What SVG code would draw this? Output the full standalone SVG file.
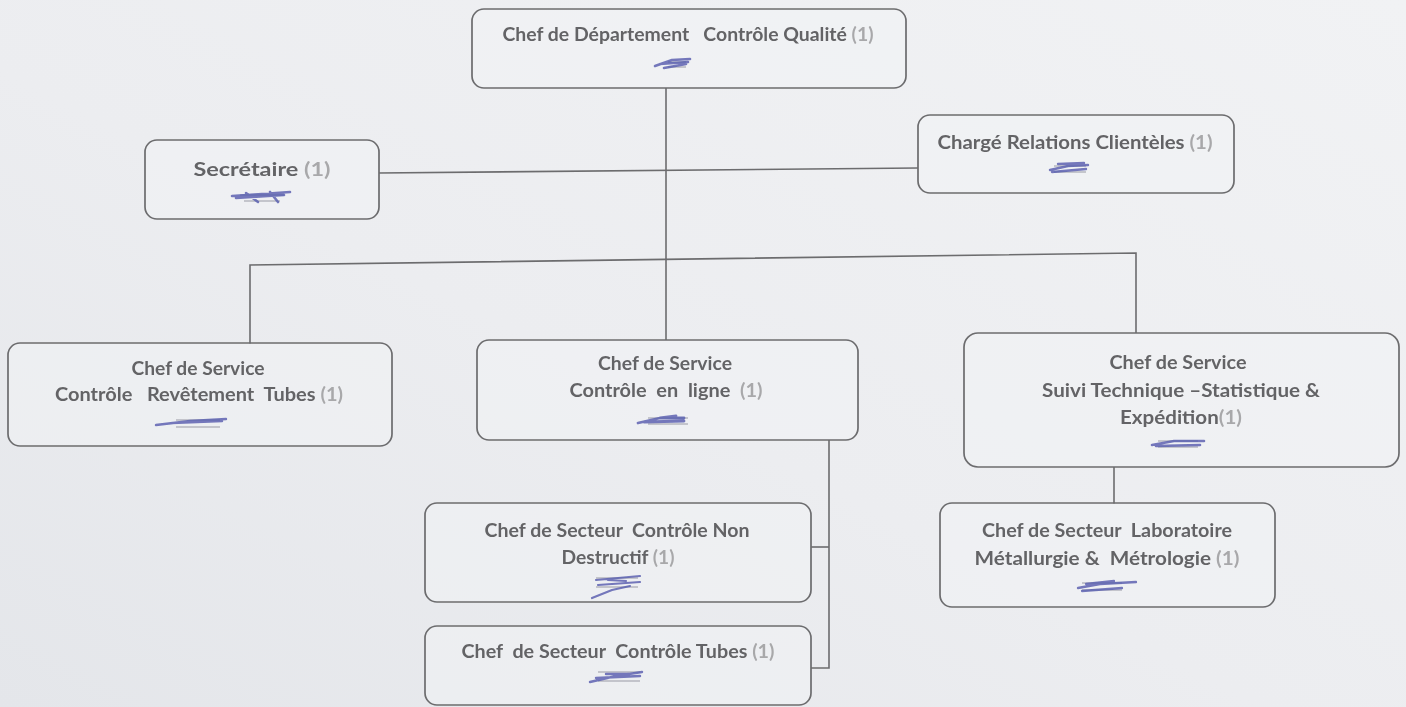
<svg xmlns="http://www.w3.org/2000/svg" width="1406" height="707" viewBox="0 0 1406 707">
  <defs>
    <linearGradient id="paper" x1="1" y1="0" x2="0" y2="1">
      <stop offset="0" stop-color="#f1f2f4"/>
      <stop offset="0.55" stop-color="#ecedf0"/>
      <stop offset="1" stop-color="#e4e6ea"/>
    </linearGradient>
    <filter id="soft" x="-5%" y="-5%" width="110%" height="110%">
      <feGaussianBlur stdDeviation="0.45"/>
    </filter>
    <filter id="ink" x="-10%" y="-30%" width="120%" height="160%">
      <feGaussianBlur stdDeviation="0.6"/>
    </filter>
  </defs>
  <style>
    .box { fill: #f2f3f5; fill-opacity: 0.5; stroke: #6c6c6e; stroke-width: 1.7; }
    .wire { fill: none; stroke: #6c6c6e; stroke-width: 1.6; }
    .lbl { font-family: Lato, "Open Sans", "Liberation Sans", sans-serif; font-weight: 700; font-size: 18px; fill: #646466; text-anchor: middle; white-space: pre; }
    .cnt { fill: #a8a8aa; }
    .code { fill: none; stroke: #9a9aa6; stroke-width: 1.2; }
    .pen { fill: none; stroke: #5d62b0; stroke-linecap: round; stroke-linejoin: round; opacity: 0.85; }
  </style>

  <rect x="0" y="0" width="1406" height="707" fill="url(#paper)"/>

  <g filter="url(#soft)">
    <!-- connectors -->
    <g id="connectors">
      <line class="wire" x1="666" y1="88" x2="666" y2="340"/>
      <line class="wire" x1="379" y1="173" x2="918" y2="168"/>
      <polyline class="wire" points="250,344 250,265 1136,253 1136,333"/>
      <polyline class="wire" points="829,440 829,668 811,668"/>
      <line class="wire" x1="811" y1="547" x2="829" y2="547"/>
      <line class="wire" x1="1114" y1="467" x2="1114" y2="504"/>
    </g>

    <g id="node-chef-departement">
      <rect class="box" x="472" y="9" width="434" height="79" rx="12"/>
      <text class="lbl" x="688" y="41" font-size="18" textLength="371" lengthAdjust="spacingAndGlyphs">Chef de Département   Contrôle Qualité <tspan class="cnt">(1)</tspan></text>
      <g filter="url(#ink)">
        <path class="code" d="M668 62h18M668 67h18"/>
        <path class="pen" stroke-width="2.6" d="M655 66 L672 60 L690 59 M660 64 L688 62 M664 68 L686 64"/>
      </g>
    </g>

    <g id="node-secretaire">
      <rect class="box" x="145" y="140" width="234" height="79" rx="12"/>
      <text class="lbl" x="262" y="176" font-size="21" textLength="137" lengthAdjust="spacingAndGlyphs">Secrétaire <tspan class="cnt">(1)</tspan></text>
      <g filter="url(#ink)">
        <path class="code" d="M240 195h44M244 201h36"/>
        <path class="pen" stroke-width="2.6" d="M232 196 L262 194 L290 192 M236 198 L284 195 M246 193 L258 202 M270 192 L278 202"/>
      </g>
    </g>

    <g id="node-relations-clienteles">
      <rect class="box" x="918" y="115" width="316" height="78" rx="12"/>
      <text class="lbl" x="1075" y="149" textLength="275" lengthAdjust="spacingAndGlyphs">Chargé Relations Clientèles <tspan class="cnt">(1)</tspan></text>
      <g filter="url(#ink)">
        <path class="code" d="M1054 166h32M1054 172h32"/>
        <path class="pen" stroke-width="2.4" d="M1050 170 L1068 166 L1088 165 M1052 172 L1086 169 M1058 164 L1084 163"/>
      </g>
    </g>

    <g id="node-revetement">
      <rect class="box" x="8" y="343" width="384" height="103" rx="12"/>
      <text class="lbl" x="198" y="375" textLength="133" lengthAdjust="spacingAndGlyphs">Chef de Service</text>
      <text class="lbl" x="199" y="401" textLength="288" lengthAdjust="spacingAndGlyphs">Contrôle   Revêtement  Tubes <tspan class="cnt">(1)</tspan></text>
      <g filter="url(#ink)">
        <path class="code" d="M176 420h44M176 427h44"/>
        <path class="pen" stroke-width="2.4" d="M156 425 L190 421 L226 419 M172 423 L222 421"/>
      </g>
    </g>

    <g id="node-en-ligne">
      <rect class="box" x="477" y="340" width="381" height="100" rx="12"/>
      <text class="lbl" x="665" y="370" textLength="134" lengthAdjust="spacingAndGlyphs">Chef de Service</text>
      <text class="lbl" x="666" y="397" textLength="193" lengthAdjust="spacingAndGlyphs">Contrôle  en  ligne  <tspan class="cnt">(1)</tspan></text>
      <g filter="url(#ink)">
        <path class="code" d="M648 418h40M648 424h40"/>
        <path class="pen" stroke-width="2.8" d="M638 423 L660 418 L684 418 M644 422 L684 421 M660 418 L676 416"/>
      </g>
    </g>

    <g id="node-suivi-technique">
      <rect class="box" x="964" y="333" width="435" height="134" rx="14"/>
      <text class="lbl" x="1178" y="369" textLength="137" lengthAdjust="spacingAndGlyphs">Chef de Service</text>
      <text class="lbl" x="1181" y="397" textLength="278" lengthAdjust="spacingAndGlyphs">Suivi Technique –Statistique &amp;</text>
      <text class="lbl" x="1181" y="424" textLength="122" lengthAdjust="spacingAndGlyphs">Expédition<tspan class="cnt">(1)</tspan></text>
      <g filter="url(#ink)">
        <path class="code" d="M1158 441h40M1158 447h40"/>
        <path class="pen" stroke-width="2.6" d="M1152 445 L1174 441 L1204 441 M1156 446 L1200 445"/>
      </g>
    </g>

    <g id="node-cnd">
      <rect class="box" x="425" y="503" width="386" height="99" rx="12"/>
      <text class="lbl" x="617" y="537" textLength="265" lengthAdjust="spacingAndGlyphs">Chef de Secteur  Contrôle Non</text>
      <text class="lbl" x="618" y="564" textLength="113" lengthAdjust="spacingAndGlyphs">Destructif <tspan class="cnt">(1)</tspan></text>
      <g filter="url(#ink)">
        <path class="code" d="M596 578h42M596 587h42"/>
        <path class="pen" stroke-width="2.2" d="M596 580 L640 576 M598 585 L640 582 M608 580 L626 581 M592 598 L612 590 L630 586"/>
      </g>
    </g>

    <g id="node-controle-tubes">
      <rect class="box" x="425" y="626" width="386" height="79" rx="12"/>
      <text class="lbl" x="618" y="658" textLength="313" lengthAdjust="spacingAndGlyphs">Chef  de Secteur  Contrôle Tubes <tspan class="cnt">(1)</tspan></text>
      <g filter="url(#ink)">
        <path class="code" d="M598 672h42M598 681h42"/>
        <path class="pen" stroke-width="2.4" d="M590 682 L616 676 L642 672 M596 678 L640 676 M606 674 L628 674"/>
      </g>
    </g>

    <g id="node-laboratoire">
      <rect class="box" x="940" y="503" width="335" height="104" rx="12"/>
      <text class="lbl" x="1107" y="537" textLength="250" lengthAdjust="spacingAndGlyphs">Chef de Secteur  Laboratoire</text>
      <text class="lbl" x="1107" y="565" textLength="265" lengthAdjust="spacingAndGlyphs">Métallurgie &amp;  Métrologie <tspan class="cnt">(1)</tspan></text>
      <g filter="url(#ink)">
        <path class="code" d="M1082 583h40M1082 590h40"/>
        <path class="pen" stroke-width="2.3" d="M1078 588 L1100 584 L1136 582 M1082 591 L1122 588 M1086 584 L1114 581"/>
      </g>
    </g>
  </g>
</svg>
